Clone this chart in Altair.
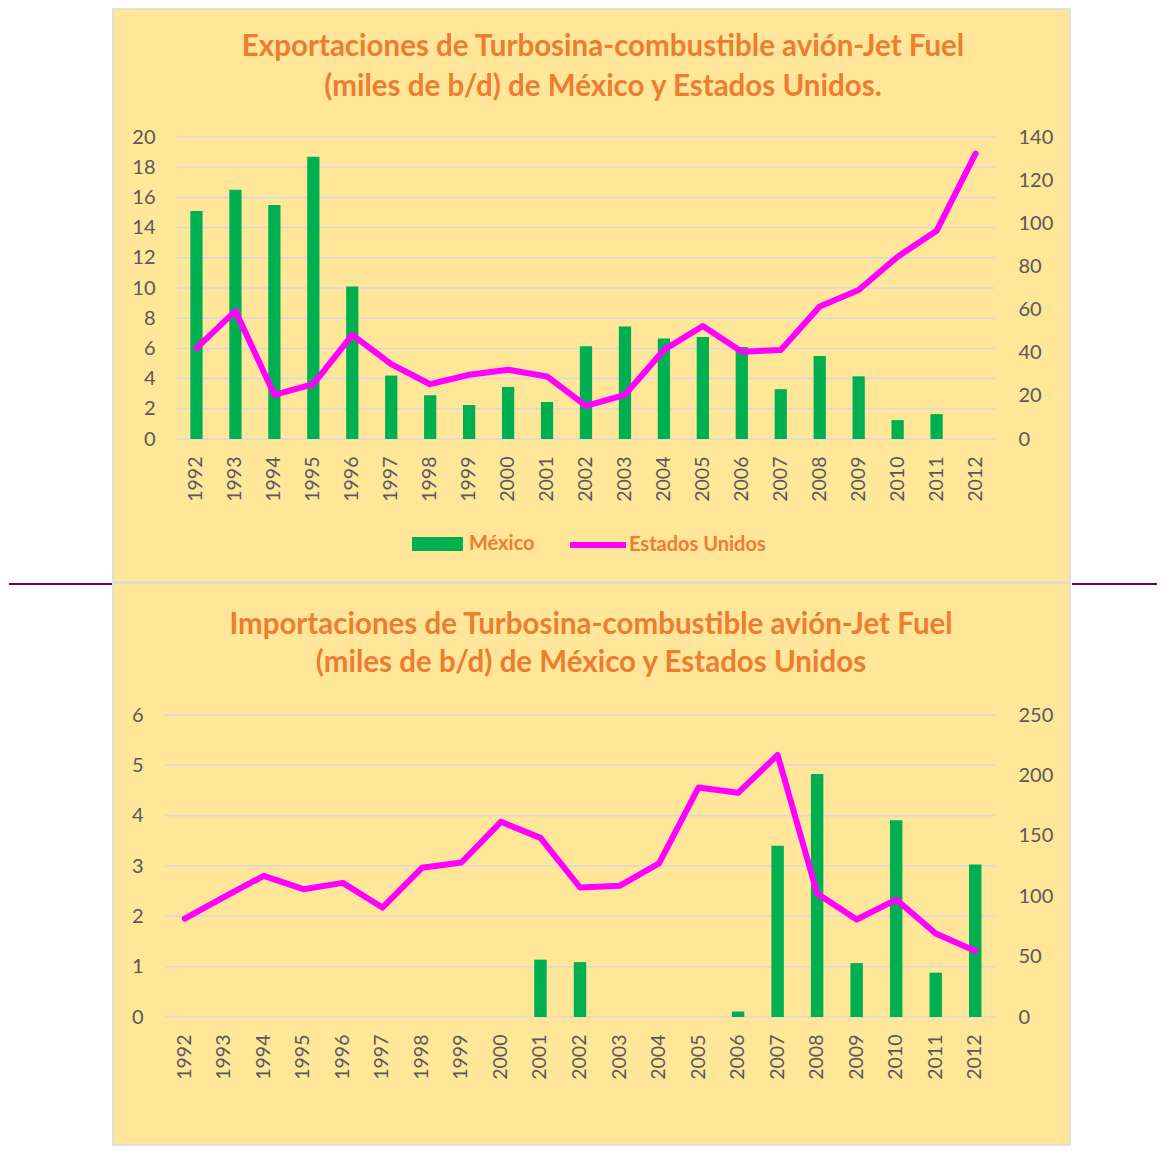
import altair as alt
import pandas as pd

# ---------------- data ----------------
years = [str(y) for y in range(1992, 2013)]

exp_mexico = [15.1, 16.5, 15.5, 18.7, 10.1, 4.2, 2.9, 2.25, 3.45, 2.45,
              6.15, 7.45, 6.65, 6.75, 6.1, 3.3, 5.5, 4.15, 1.25, 1.65, None]
exp_usa = [42.1, 59.4, 20.5, 25.4, 48.3, 34.7, 25.4, 29.8, 32.1, 29.0,
           15.4, 20.5, 41.3, 52.4, 40.5, 41.3, 61.4, 69.1, 84.5, 96.5, 132.3]

imp_mexico = [0, 0, 0, 0, 0, 0, 0, 0, 0, 1.14,
              1.09, 0, 0, 0, 0.11, 3.40, 4.83, 1.07, 3.91, 0.88, 3.03]
imp_usa = [81.5, 99.4, 116.9, 105.8, 111.0, 90.6, 123.5, 127.9, 161.6, 148.3,
           107.2, 108.6, 127.1, 190.0, 185.6, 216.9, 102.2, 80.7, 97.2, 69.1, 54.7]

exp_left_ticks = [0, 2, 4, 6, 8, 10, 12, 14, 16, 18, 20]
exp_right_ticks = [0, 20, 40, 60, 80, 100, 120, 140]
imp_left_ticks = [0, 1, 2, 3, 4, 5, 6]
imp_right_ticks = [0, 50, 100, 150, 200, 250]

exp_title = ["Exportaciones de Turbosina-combustible avión-Jet Fuel",
             "(miles de b/d) de México y Estados Unidos."]
imp_title = ["Importaciones de Turbosina-combustible avión-Jet Fuel",
             "(miles de b/d) de México y Estados Unidos"]

series_names = ["México", "Estados Unidos"]

# ---------------- style ----------------
FONT = "Lato"
GREEN = "#00B050"
MAGENTA = "#FF00FF"
ORANGE = "#ED7D31"
GRAY_TXT = "#595959"
GRID = "#D9D9D9"
YELLOW = "#FFE699"
PURPLE = "#660066"
W = 818
H = 302
RECT_PATH = "M-1,-0.27L1,-0.27L1,0.27L-1,0.27Z"


def panel(mx, us, lticks, rticks, title_lines, x_shift, title_x, title_y,
          line_h, rect_y1, rect_y2, legend_y, purple_y=None):
    df = pd.DataFrame({
        "Año": years, "mx": mx, "us": us,
        "sm": series_names[0], "su": series_names[1],
    })
    lmax = lticks[-1]
    rmax = rticks[-1]

    x_enc = alt.X(
        "Año:O",
        scale=alt.Scale(range=[-x_shift, W], paddingInner=0.685, paddingOuter=0.3425),
        axis=alt.Axis(title=None, labelAngle=270, labelFont=FONT, labelFontSize=19.5,
                      labelColor=GRAY_TXT, labelPadding=17, ticks=False, tickSize=0,
                      domain=False, grid=False, zindex=1),
    )

    one = pd.DataFrame({"k": [0]})
    bg = alt.Chart(one).mark_rect(fill=YELLOW, stroke=GRID, strokeWidth=1.5).encode(
        x=alt.value(-64), x2=alt.value(893), y=alt.value(rect_y1), y2=alt.value(rect_y2)
    )
    layers = [bg]
    if purple_y is not None:
        layers.append(alt.Chart(one).mark_rule(color=PURPLE, strokeWidth=2).encode(
            x=alt.value(-168), x2=alt.value(-65), y=alt.value(purple_y)))
        layers.append(alt.Chart(one).mark_rule(color=PURPLE, strokeWidth=2).encode(
            x=alt.value(895), x2=alt.value(980), y=alt.value(purple_y)))

    grid = alt.Chart(pd.DataFrame({"v": lticks})).mark_rule(
        color=GRID, strokeWidth=1.5
    ).encode(
        y=alt.Y("v:Q", scale=alt.Scale(domain=[0, lmax], nice=False), axis=None),
        x=alt.value(-x_shift), x2=alt.value(W),
    )

    bars = alt.Chart(df).mark_bar().encode(
        x=x_enc,
        y=alt.Y("mx:Q", scale=alt.Scale(domain=[0, lmax], nice=False),
                axis=alt.Axis(orient="left", values=lticks, title=None, grid=False,
                              domain=False, ticks=False, tickSize=0, labelPadding=22,
                              offset=x_shift, labelFont=FONT, labelFontSize=20,
                              labelColor=GRAY_TXT, zindex=1)),
        fill=alt.Fill("sm:N", scale=alt.Scale(domain=[series_names[0]], range=[GREEN]),
                      legend=alt.Legend(title=None, orient="none", legendX=235,
                                        legendY=legend_y - 25.5, padding=0,
                                        symbolType=RECT_PATH, symbolSize=2601,
                                        symbolStrokeWidth=0, labelOffset=6,
                                        labelFont=FONT, labelFontSize=20,
                                        labelFontWeight="bold", labelColor=ORANGE)),
    )

    line = alt.Chart(df).mark_line(strokeWidth=6, strokeCap="round", strokeJoin="round").encode(
        x=x_enc,
        y=alt.Y("us:Q", scale=alt.Scale(domain=[0, rmax], nice=False),
                axis=alt.Axis(orient="right", values=rticks, title=None, grid=False,
                              domain=False, ticks=False, tickSize=0, labelPadding=23,
                              labelFont=FONT, labelFontSize=20, labelColor=GRAY_TXT,
                              zindex=1)),
        stroke=alt.Stroke("su:N", scale=alt.Scale(domain=[series_names[1]], range=[MAGENTA]),
                          legend=alt.Legend(title=None, orient="none", legendX=390,
                                            legendY=legend_y - 30, padding=0,
                                            symbolType="stroke", symbolSize=3136,
                                            symbolStrokeWidth=6, labelOffset=0,
                                            labelFont=FONT, labelFontSize=20,
                                            labelFontWeight="bold", labelColor=ORANGE)),
    )

    title = alt.Chart(pd.DataFrame({"t": ["\n".join(title_lines)]})).mark_text(
        font=FONT, fontSize=29.5, fontWeight="bold", color=ORANGE, lineBreak="\n",
        lineHeight=line_h, align="center", baseline="middle"
    ).encode(text="t:N", x=alt.value(title_x), y=alt.value(title_y))

    layers += [grid, bars, line, title]
    return alt.layer(*layers).resolve_scale(y="independent").properties(width=W, height=H)


top = panel(exp_mexico, exp_usa, exp_left_ticks, exp_right_ticks, exp_title,
            x_shift=0, title_x=426, title_y=-90, line_h=40,
            rect_y1=-128, rect_y2=445, legend_y=407, purple_y=447)
bottom = panel(imp_mexico, imp_usa, imp_left_ticks, imp_right_ticks, imp_title,
               x_shift=12, title_x=414, title_y=-90, line_h=38,
               rect_y1=-132, rect_y2=430, legend_y=405)

chart = alt.vconcat(top, bottom, spacing=276, bounds="flush").properties(
    padding=0, background="white"
).configure_view(stroke=None)

chart.save("out.html", embed_options={"renderer": "svg", "actions": False})
